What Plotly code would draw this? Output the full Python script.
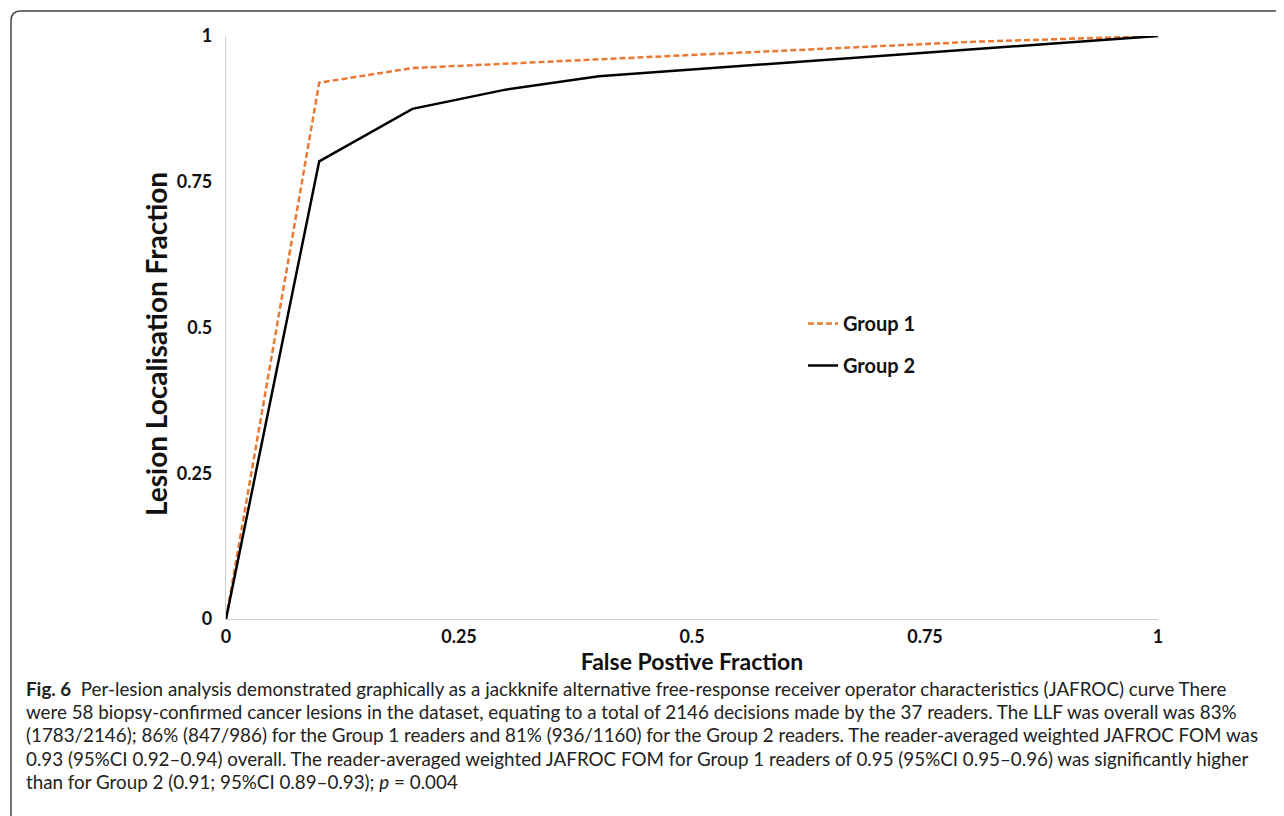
import plotly.graph_objects as go

# ---- data ----
fpf_group1 = [0, 0.1, 0.2, 0.4, 0.8, 1.0]
llf_group1 = [0, 0.92, 0.945, 0.96, 0.99, 1.0]
fpf_group2 = [0, 0.1, 0.2, 0.3, 0.4, 1.0]
llf_group2 = [0, 0.785, 0.875, 0.908, 0.931, 1.0]
series_names = ["Group 1", "Group 2"]
tick_vals = [0, 0.25, 0.5, 0.75, 1]
tick_text = ["0", "0.25", "0.5", "0.75", "1"]

caption_lines = [
    "<b>Fig. 6</b>  Per-lesion analysis demonstrated graphically as a jackknife alternative free-response receiver operator characteristics (JAFROC) curve There",
    "were 58 biopsy-confirmed cancer lesions in the dataset, equating to a total of 2146 decisions made by the 37 readers. The LLF was overall was 83%",
    "(1783/2146); 86% (847/986) for the Group 1 readers and 81% (936/1160) for the Group 2 readers. The reader-averaged weighted JAFROC FOM was",
    "0.93 (95%CI 0.92–0.94) overall. The reader-averaged weighted JAFROC FOM for Group 1 readers of 0.95 (95%CI 0.95–0.96) was significantly higher",
    "than for Group 2 (0.91; 95%CI 0.89–0.93); <i>p</i> = 0.004",
]

OFF = 8  # page body margin
W, H = 1284, 816
L, R, T, B = 226 - OFF, 1158 - OFF, 36 - OFF, 619 - OFF  # plot area in figure px


def px_x(px):
    return (px - OFF - L) / (R - L)


def px_y(py):
    return (B - (py - OFF)) / (B - T)


FONT = "Lato"

fig = go.Figure()
fig.add_trace(go.Scatter(
    x=fpf_group1, y=llf_group1, mode="lines", name="<b>" + series_names[0] + "</b>",
    legendgroup="g1",
    line=dict(color="#E97A35", width=2.5, dash="6px,3px"),
))
fig.add_trace(go.Scatter(
    x=fpf_group2, y=llf_group2, mode="lines", name="<b>" + series_names[1] + "</b>",
    legendgroup="g2",
    line=dict(color="#000000", width=2.5),
))

axis_common = dict(
    range=[0, 1], tickvals=tick_vals, ticktext=tick_text,
    showgrid=False, zeroline=False, showline=True,
    linecolor="#D0D0D0", linewidth=1.2, ticks="",
    tickfont=dict(family=FONT, size=18, color="#111111", weight="bold"),
)

fig.update_layout(
    width=W, height=H,
    margin=dict(l=L, r=W - R, t=T, b=H - B),
    paper_bgcolor="white", plot_bgcolor="white",
    xaxis=dict(**axis_common,
               title=dict(text="<b>False Postive Fraction</b>",
                          font=dict(family=FONT, size=23, color="#111111"),
                          standoff=8)),
    yaxis=dict(**axis_common),
    showlegend=True,
    legend=dict(
        x=px_x(803), y=px_y(304), xanchor="left", yanchor="top",
        font=dict(family=FONT, size=20, color="#111111"),
        bgcolor="rgba(0,0,0,0)", tracegroupgap=13,
        traceorder="grouped",
    ),
)
fig.update_xaxes(ticklabelstandoff=1)
fig.update_yaxes(ticklabelstandoff=9)

# y axis title (placed off-centre as in the original)
fig.add_annotation(
    text="<b>Lesion Localisation Fraction</b>", textangle=-90,
    xref="paper", yref="paper", x=px_x(156), y=px_y(344),
    xanchor="center", yanchor="middle", showarrow=False,
    font=dict(family=FONT, size=28, color="#111111"),
)

# caption
line_y = [688, 711, 734, 758, 781]
for txt, yy in zip(caption_lines, line_y):
    fig.add_annotation(
        text=txt, xref="paper", yref="paper", x=px_x(24), y=px_y(yy),
        xanchor="left", yanchor="middle", showarrow=False,
        font=dict(family=FONT, size=18.8, color="#222222"),
    )

# frame
path = (f"M {px_x(1300)},{px_y(11)} L {px_x(21)},{px_y(11)} "
        f"Q {px_x(11)},{px_y(11)} {px_x(11)},{px_y(21)} L {px_x(11)},{px_y(830)}")
fig.add_shape(type="path", path=path, xref="paper", yref="paper",
              line=dict(color="#444444", width=1.5))

fig.write_html("out.html")
